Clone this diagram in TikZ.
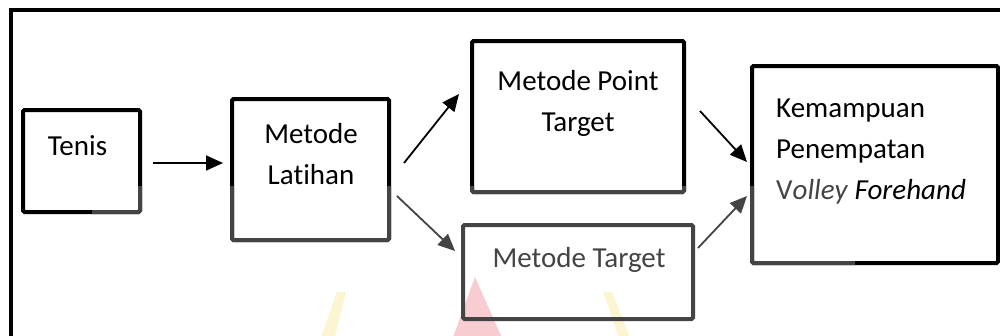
\documentclass[tikz,border=0pt]{standalone}
\usepackage{fontspec}
\setmainfont{Carlito}[RawFeature=-liga]
\usetikzlibrary{arrows.meta}
\definecolor{dimink}{HTML}{444444}
\definecolor{wmpink}{HTML}{F8CDD1}
\definecolor{wmyellow}{HTML}{FBF5D2}
\tikzset{
  box/.style={draw=black, line width=4pt, rounded corners=1.5pt, inner sep=0pt, outer sep=0pt},
  rim/.style={draw=dimink, line width=4pt, rounded corners=1.5pt},
  lbl/.style={font=\fontsize{29pt}{35pt}\selectfont, inner sep=0pt, anchor=base},
  link/.style={draw=black, line width=1.8pt, -{Triangle[length=17pt,width=15pt]}}
}
\begin{document}
\begin{tikzpicture}[x=1pt, y=-1pt]
  \useasboundingbox (0,0) rectangle (1000,335);
  \fill[white] (0,0) rectangle (1000,335);

  % faint emblem in the lower part
  \fill[wmpink] (475,277) -- (503,340) -- (452,340) -- cycle;
  \fill[wmyellow] (337,292) -- (346,292) -- (334,340) -- (320,340) -- cycle;
  \fill[wmyellow] (603,292) -- (612,292) -- (631,340) -- (620,340) -- cycle;

  % outer frame
  \draw[line width=4pt] (11,345) -- (11,9.5) -- (1010,9.5);

  % boxes
  \node[box, minimum width=117pt, minimum height=102pt] (tenis) at (81.5,161) {};
  \node[box, minimum width=157pt, minimum height=141pt] (lat) at (310.5,169.5) {};
  \node[box, minimum width=212pt, minimum height=151pt] (pt) at (578,116.5) {};
  \node[box, draw=dimink, minimum width=230pt, minimum height=94pt] (mt) at (578,272) {};
  \node[box, minimum width=246pt, minimum height=197pt] (kem) at (875,164.5) {};

  % lower band of the outlines in grey
  \begin{scope}
    \clip (92,186) rectangle (855,340);
    \path[rim] (tenis.south west) rectangle (tenis.north east);
    \path[rim] (lat.south west) rectangle (lat.north east);
    \path[rim] (pt.south west) rectangle (pt.north east);
    \path[rim] (kem.south west) rectangle (kem.north east);
  \end{scope}

  % labels
  \node[lbl] (tenisA) at (77.5,155) {Tenis};
  \node[lbl] (latA) at (311,143) {Metode};
  \node[lbl] (latB) at (311,184) {Latihan};
  \node[lbl] (ptA) at (578,90) {Metode Point};
  \node[lbl] (ptB) at (578,131) {Target};
  \node[lbl, text=dimink] (mtA) at (579,267) {Metode Target};
  \node[lbl, anchor=base west] (kemA) at (776,117) {Kemampuan};
  \node[lbl, anchor=base west] (kemB) at (776,158) {Penempatan};
  \node[lbl, anchor=base west] (kemC) at (776,199) {\textcolor{dimink}{V\textit{olley}} \textit{Forehand}};

  % connectors
  \draw[link] ([shift={(13,2)}]tenis.east) -- ([shift={(-9,-6.5)}]lat.west);
  \draw[link] ([shift={(15,-6.5)}]lat.east) -- ([shift={(-13,-22.5)}]pt.west);
  \draw[link, draw=dimink] ([shift={(8,26.5)}]lat.east) -- ([shift={(-8,-21)}]mt.west);
  \draw[link] ([shift={(16,-5.5)}]pt.east) -- ([shift={(-5,-2.5)}]kem.west);
  \draw[link, draw=dimink] ([shift={(5,-24)}]mt.east) -- ([shift={(-5,31.5)}]kem.west);
\end{tikzpicture}
\end{document}
